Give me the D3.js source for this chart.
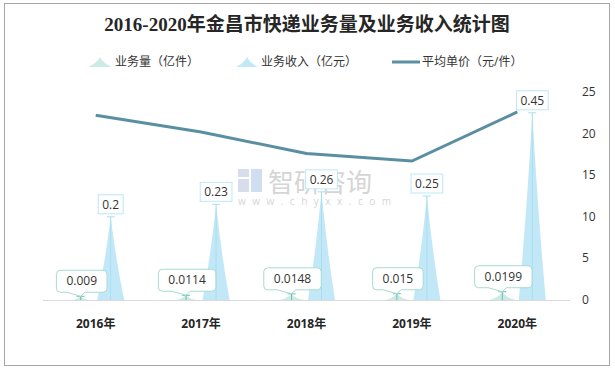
<!DOCTYPE html>
<html>
<head>
<meta charset="utf-8">
<script src="https://cdn.jsdelivr.net/npm/d3@7"></script>
<style>
  body { margin: 0; background: #fff; }
  svg { display: block; font-family: "Open Sans", "Noto Sans CJK SC", sans-serif; }
</style>
</head>
<body>
<svg></svg>
<script>
let years = ["2016年", "2017年", "2018年", "2019年", "2020年"];
let volume = [0.009, 0.0114, 0.0148, 0.015, 0.0199];   // 业务量（亿件）
let revenue = [0.2, 0.23, 0.26, 0.25, 0.45];           // 业务收入（亿元）
let price = [22.2, 20.2, 17.6, 16.7, 22.6];            // 平均单价（元/件）
let yTicks = [0, 5, 10, 15, 20, 25];

let width = 615;
let height = 370;
let barFactor = 50; // bars drawn on the right axis, value x 50

let svg = d3.select("svg").attr("width", width).attr("height", height);

// outer frame
svg.append("rect")
  .attr("x", 4.5).attr("y", 3.5)
  .attr("width", 605).attr("height", 362)
  .attr("fill", "none").attr("stroke", "#a6a6a6");

// title
svg.append("text")
  .attr("x", 307).attr("y", 31)
  .attr("text-anchor", "middle")
  .style("font-family", "'Liberation Serif', 'Noto Sans CJK SC', serif")
  .style("font-weight", "bold")
  .style("font-size", "19px")
  .attr("fill", "#262626")
  .text("2016-2020年金昌市快递业务量及业务收入统计图");

// scales
let xScale = d3.scaleBand().domain(years).range([43, 570]);
let yScale = d3.scaleLinear().domain([0, 25]).range([300, 92]);
let off = 15;
let halfW = 13.5;

function spike(cx, top) {
  let b = yScale(0);
  let m = (b + top) / 2;
  return `M${cx - halfW},${b} Q${cx - halfW * 0.4},${m + 3} ${cx},${top} Q${cx + halfW * 0.4},${m + 3} ${cx + halfW},${b} Z`;
}

// watermark
let wm = svg.append("g").attr("opacity", 0.55);
wm.append("rect").attr("x", 238).attr("y", 169).attr("width", 11).attr("height", 8).attr("fill", "#b8c3dc");
wm.append("rect").attr("x", 238).attr("y", 179).attr("width", 11).attr("height", 13).attr("fill", "#b8c3dc");
wm.append("rect").attr("x", 251).attr("y", 169).attr("width", 11).attr("height", 23).attr("fill", "#a9c5e6");
wm.append("text").attr("x", 268).attr("y", 192)
  .style("font-size", "26px").style("font-family", "'Noto Sans CJK SC'")
  .attr("fill", "#b4b4b4").text("智研咨询");
wm.append("text").attr("x", 238).attr("y", 205)
  .style("font-size", "10px").style("letter-spacing", "6.5px")
  .attr("fill", "#b4b4b4").text("www.chyxx.com");

// x axis baseline
svg.append("line")
  .attr("x1", 43).attr("x2", 570)
  .attr("y1", yScale(0) + 0.5).attr("y2", yScale(0) + 0.5)
  .attr("stroke", "#d9d9d9");

// x labels
svg.selectAll(".xlab")
  .data(years)
  .enter()
  .append("text")
  .attr("class", "xlab")
  .attr("x", (d) => xScale(d) + xScale.bandwidth() / 2)
  .attr("y", 328)
  .attr("text-anchor", "middle")
  .style("font-size", "12px")
  .style("font-weight", "bold")
  .attr("fill", "#262626")
  .text((d) => d);

// right axis labels
svg.selectAll(".ylab")
  .data(yTicks)
  .enter()
  .append("text")
  .attr("class", "ylab")
  .attr("x", 582)
  .attr("y", (d) => yScale(d) + 4)
  .style("font-size", "12px")
  .attr("fill", "#333")
  .text((d) => d);

// revenue spikes
svg.selectAll(".rev")
  .data(revenue)
  .enter()
  .append("path")
  .attr("class", "rev")
  .attr("d", (d, i) => spike(xScale(years[i]) + xScale.bandwidth() / 2 + off, yScale(d * barFactor)))
  .attr("fill", "#c2e8f7");

// volume spikes
svg.selectAll(".vol")
  .data(volume)
  .enter()
  .append("path")
  .attr("class", "vol")
  .attr("d", (d, i) => spike(xScale(years[i]) + xScale.bandwidth() / 2 - off, yScale(d * barFactor)))
  .attr("fill", "#cdebe5");

// line
let line = d3.line()
  .x((d, i) => xScale(years[i]) + xScale.bandwidth() / 2)
  .y((d) => yScale(d));

svg.append("path")
  .datum(price)
  .attr("d", line)
  .attr("fill", "none")
  .attr("stroke", "#5a8fa2")
  .attr("stroke-width", 3);

// revenue labels
revenue.forEach((d, i) => {
  let cx = xScale(years[i]) + xScale.bandwidth() / 2 + off;
  let top = yScale(d * barFactor);
  let g = svg.append("g");
  g.append("line").attr("x1", cx).attr("x2", cx).attr("y1", top).attr("y2", yScale(0))
    .attr("stroke", "#a9def2");
  g.append("line").attr("x1", cx - 4).attr("x2", cx + 4).attr("y1", top).attr("y2", top)
    .attr("stroke", "#a9def2");
  let t = g.append("text").attr("x", cx).attr("y", top - 8)
    .attr("text-anchor", "middle").style("font-size", "12px").attr("fill", "#333").text(d);
  let w = t.node().getComputedTextLength() + 8;
  g.insert("rect", "text")
    .attr("x", cx - w / 2).attr("y", top - 22).attr("width", w).attr("height", 19)
    .attr("fill", "#fff").attr("stroke", "#bde7f7");
});

// volume labels
volume.forEach((d, i) => {
  let cx = xScale(years[i]) + xScale.bandwidth() / 2 - off;
  let top = yScale(d * barFactor);
  let g = svg.append("g");
  g.append("line").attr("x1", cx).attr("x2", cx).attr("y1", top).attr("y2", yScale(0))
    .attr("stroke", "#6dbfae");
  g.append("line").attr("x1", cx - 4).attr("x2", cx + 4).attr("y1", top).attr("y2", top)
    .attr("stroke", "#6dbfae");
  let t = g.append("text").attr("x", cx + 1).attr("y", top - 11)
    .attr("text-anchor", "middle").style("font-size", "12px").attr("fill", "#333").text(d);
  let w = t.node().getComputedTextLength() + 20;
  let x0 = cx + 1 - w / 2, x1 = cx + 1 + w / 2, b = top - 4, h = 22, r = 4;
  g.insert("path", "text")
    .attr("d", `M${x0 + r},${b - h} L${x1 - r},${b - h} Q${x1},${b - h} ${x1},${b - h + r} L${x1},${b - r} Q${x1},${b} ${x1 - r},${b} ` +
      `L${cx + 4},${b} L${cx},${top} L${cx - 14},${b} L${x0 + r},${b} Q${x0},${b} ${x0},${b - r} L${x0},${b - h + r} Q${x0},${b - h} ${x0 + r},${b - h} Z`)
    .attr("fill", "#fff").attr("stroke", "#a6dbd1");
});

// legend
let lg = svg.append("g").style("font-size", "12px").attr("fill", "#333");
lg.append("path").attr("d", "M88,67 Q97,63 100,57 Q103,63 112,67 Z").attr("fill", "#cdebe5");
lg.append("text").attr("x", 115).attr("y", 66).attr("fill", "#333").text("业务量（亿件）");
lg.append("path").attr("d", "M236,67 Q244,63 247,57 Q250,63 258,67 Z").attr("fill", "#c2e8f7");
lg.append("text").attr("x", 261).attr("y", 66).attr("fill", "#333").text("业务收入（亿元）");
lg.append("line").attr("x1", 392).attr("x2", 420).attr("y1", 62).attr("y2", 62)
  .attr("stroke", "#5a8fa2").attr("stroke-width", 3);
lg.append("text").attr("x", 422).attr("y", 66).attr("fill", "#333").text("平均单价（元/件）");
</script>
</body>
</html>
